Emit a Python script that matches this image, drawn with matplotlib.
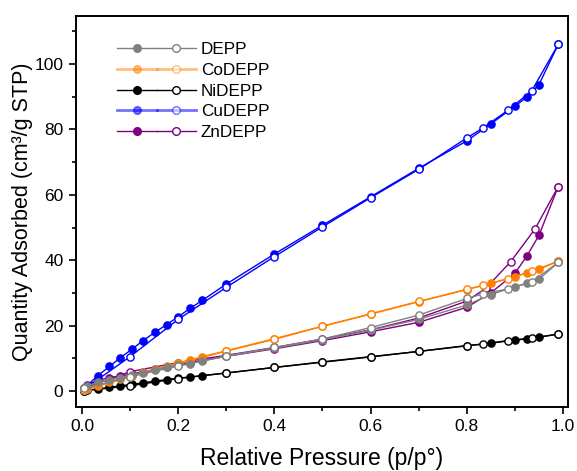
import matplotlib
matplotlib.use("Agg")
import matplotlib.pyplot as plt
from matplotlib.lines import Line2D
from matplotlib.legend_handler import HandlerTuple
from matplotlib.ticker import MultipleLocator

plt.rcParams['font.family'] = ['Liberation Sans', 'DejaVu Sans']

# Relative pressure grids
p_ads = [0.005, 0.01, 0.033, 0.057, 0.08, 0.104, 0.127, 0.152, 0.176, 0.2, 0.225, 0.25,
         0.3, 0.4, 0.5, 0.6, 0.7, 0.8, 0.85, 0.9, 0.925, 0.95, 0.99]
p_des = [0.99, 0.935, 0.885, 0.834, 0.8, 0.7, 0.6, 0.5, 0.4, 0.3, 0.2, 0.1, 0.005]
p_des_zn = [0.99, 0.942, 0.891, 0.84, 0.8, 0.7, 0.6, 0.5, 0.4, 0.3, 0.2, 0.1, 0.005]

# Quantity adsorbed (cm3/g STP)
depp_ads = [0.8, 1.5, 2.6, 3.4, 4.0, 4.8, 5.6, 6.4, 7.2, 7.8, 8.4, 9.2,
            10.6, 13.1, 15.7, 18.6, 21.9, 26.3, 29.5, 31.9, 32.9, 34.2, 39.3]
depp_des = [39.3, 33.4, 31.2, 29.7, 28.3, 23.2, 19.4, 15.9, 13.3, 10.7, 7.6, 4.4, 0.8]

co_ads = [0.3, 0.6, 1.6, 2.7, 3.7, 4.7, 5.7, 6.7, 7.7, 8.6, 9.5, 10.5,
          12.3, 16.0, 19.8, 23.5, 27.3, 31.0, 32.9, 35.0, 36.1, 37.2, 39.7]
co_des = [39.7, 36.6, 34.3, 32.3, 31.1, 27.4, 23.6, 19.8, 15.8, 12.2, 8.3, 4.3, 0.3]

ni_ads = [0.1, 0.2, 0.6, 1.1, 1.6, 2.0, 2.5, 3.0, 3.5, 3.9, 4.3, 4.7,
          5.5, 7.2, 8.8, 10.4, 12.1, 13.8, 14.7, 15.7, 16.0, 16.5, 17.4]
ni_des = [17.4, 16.1, 15.3, 14.3, 13.9, 12.1, 10.5, 8.9, 7.2, 5.5, 3.8, 1.6, 0.1]

cu_ads = [0.6, 1.6, 4.7, 7.5, 10.2, 12.8, 15.4, 18.0, 20.3, 22.7, 25.3, 27.7,
          32.7, 41.9, 50.7, 59.4, 68.1, 76.5, 81.7, 87.1, 89.9, 93.7, 106.0]
cu_des = [106.0, 91.8, 85.8, 80.5, 77.4, 67.8, 59.1, 50.2, 41.1, 31.7, 21.9, 10.5, 0.6]

zn_ads = [0.9, 1.8, 3.3, 4.1, 4.6, 5.2, 5.9, 6.6, 7.3, 8.0, 8.7, 9.4,
          10.6, 12.9, 15.4, 18.1, 21.0, 25.6, 30.0, 36.0, 41.3, 47.6, 62.5]
zn_des = [62.5, 49.6, 39.5, 31.5, 27.5, 22.3, 18.7, 15.9, 13.3, 10.9, 8.7, 5.9, 0.9]

labels = ['DEPP', 'CoDEPP', 'NiDEPP', 'CuDEPP', 'ZnDEPP']
colors = ['#808080', '#FF7F00', '#000000', '#0000FF', '#800080']
legend_alpha = [1.0, 0.5, 1.0, 0.55, 1.0]
legend_lw = [1.0, 2.0, 1.0, 2.0, 1.0]

series = [
    (depp_ads, depp_des, p_des),
    (co_ads, co_des, p_des),
    (ni_ads, ni_des, p_des),
    (cu_ads, cu_des, p_des),
    (zn_ads, zn_des, p_des_zn),
]
zorders = [6, 5, 4, 3, 2]

fig = plt.figure(figsize=(5.77, 4.71), dpi=100)
ax = fig.add_axes([0.1317, 0.1359, 0.8527, 0.8301])

ms = 5.2
for (ads, des, pd), c, z in zip(series, colors, zorders):
    ax.plot(p_ads, ads, '-', color=c, lw=1.0, marker='o', ms=ms,
            mfc=c, mec=c, zorder=z)
    ax.plot(pd, des, '-', color=c, lw=1.0, marker='o', ms=ms,
            mfc='white', mec=c, mew=1.0, zorder=z)

ax.set_xlim(-0.0125, 1.0104)
ax.set_ylim(-4.9, 114.7)
ax.xaxis.set_major_locator(MultipleLocator(0.2))
ax.xaxis.set_minor_locator(MultipleLocator(0.1))
ax.yaxis.set_major_locator(MultipleLocator(20))
ax.yaxis.set_minor_locator(MultipleLocator(10))
ax.xaxis.set_major_formatter(matplotlib.ticker.FormatStrFormatter('%.1f'))

ax.tick_params(which='both', direction='out', width=1.2, labelsize=12.5,
               top=False, right=False)
ax.tick_params(which='major', length=5, pad=4)
ax.tick_params(which='minor', length=3)
for s in ax.spines.values():
    s.set_linewidth(1.4)

ax.set_xlabel('Relative Pressure (p/p°)', fontsize=16.5, labelpad=9)
ax.set_ylabel('Quantity Adsorbed (cm³/g STP)', fontsize=15.5, labelpad=1)

handles = []
for c, a, lw in zip(colors, legend_alpha, legend_lw):
    h1 = Line2D([], [], color=c, lw=lw, alpha=a, marker='o', ms=5.5,
                mfc=c, mec=c)
    h2 = Line2D([], [], color=c, lw=lw, alpha=a, marker='o', ms=5.5,
                mfc='white', mec=c)
    handles.append((h1, h2))

leg = ax.legend(handles, labels, handler_map={tuple: HandlerTuple(ndivide=None, pad=0.0)},
                loc='upper left', bbox_to_anchor=(0.07, 0.95), frameon=False,
                fontsize=12.3, handlelength=4.6, handletextpad=0.3,
                labelspacing=0.33, numpoints=1, borderaxespad=0)

fig.savefig('out.png', dpi=100)
